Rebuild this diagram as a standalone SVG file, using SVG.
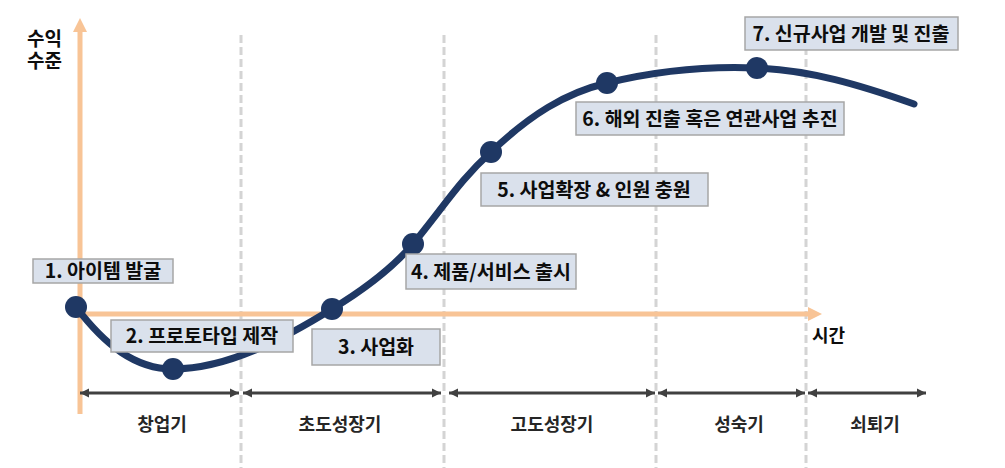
<svg xmlns="http://www.w3.org/2000/svg" width="1005" height="468" viewBox="0 0 1005 468">
<defs>
<style>
.bg{fill:#ffffff}
.axis{stroke:#f8c496;stroke-width:5;fill:none}
.axhead{fill:#f8c496}
.guide{stroke:#d4d4d4;stroke-width:3;stroke-dasharray:8 4;fill:none}
.span{stroke:#404040;stroke-width:3;fill:none;marker-start:url(#ah);marker-end:url(#ah)}
.curve{stroke:#1f3864;stroke-width:7;fill:none;stroke-linecap:round}
.dot{fill:#1f3864}
.box{fill:#dae1ec;stroke:#a6a6a6;stroke-width:1.5}
.lbl{font-family:"Noto Sans CJK KR","Noto Sans",sans-serif;font-weight:700;font-size:19.5px;fill:#0d0d0d;text-anchor:middle}
.phase{font-family:"Noto Sans CJK KR","Noto Sans",sans-serif;font-weight:700;font-size:18px;fill:#262626;text-anchor:middle}
.axlbl{font-family:"Noto Sans CJK KR","Noto Sans",sans-serif;font-weight:700;font-size:19px;fill:#0d0d0d}
</style>
<marker id="ah" viewBox="0 0 10 10" refX="10" refY="5" markerWidth="9" markerHeight="11" markerUnits="userSpaceOnUse" orient="auto-start-reverse">
<path d="M0,0 L10,5 L0,10 z" fill="#404040"/>
</marker>
</defs>
<rect class="bg" x="0" y="0" width="1005" height="468"/>

<g id="guides">
<line class="guide" x1="241" y1="35" x2="241" y2="468"/>
<line class="guide" x1="444" y1="35" x2="444" y2="468"/>
<line class="guide" x1="656" y1="35" x2="656" y2="468"/>
<line class="guide" x1="806" y1="35" x2="806" y2="468"/>
</g>

<g id="axes">
<line class="axis" x1="80" y1="414" x2="80" y2="30"/>
<polygon class="axhead" points="80,18 73,32 87,32"/>
<line class="axis" x1="78" y1="314" x2="810" y2="314"/>
<polygon class="axhead" points="822,314 808,307 808,321"/>
<text class="axlbl" x="27" y="46"><tspan x="27" y="46">수익</tspan><tspan x="27" y="68">수준</tspan></text>
<text class="axlbl" x="812" y="342" style="font-size:18px">시간</text>
</g>

<g id="connectors">
<path class="curve" d="M76,307 C105,345 135,369 173,369 C230,369 290,335 332,309 C365,289 395,265 413,244 C445,205 460,180 491,152 C530,115 565,93 607,83 C660,70 710,66 757,68 C810,70 860,85 914,104"/>
<line class="span" x1="80" y1="393" x2="239" y2="393"/>
<line class="span" x1="243" y1="393" x2="441" y2="393"/>
<line class="span" x1="449" y1="393" x2="655" y2="393"/>
<line class="span" x1="658" y1="393" x2="805" y2="393"/>
<line class="span" x1="808" y1="393" x2="926" y2="393"/>
</g>

<g id="phases">
<text class="phase" x="162" y="431">창업기</text>
<text class="phase" x="340" y="431">초도성장기</text>
<text class="phase" x="552" y="431">고도성장기</text>
<text class="phase" x="739" y="431">성숙기</text>
<text class="phase" x="875" y="431">쇠퇴기</text>
</g>

<g id="dots">
<circle class="dot" cx="76" cy="307" r="11"/>
<circle class="dot" cx="173" cy="369" r="11"/>
<circle class="dot" cx="332" cy="309" r="11"/>
<circle class="dot" cx="413" cy="244" r="11"/>
<circle class="dot" cx="491" cy="152" r="11"/>
<circle class="dot" cx="607" cy="83" r="11"/>
<circle class="dot" cx="757" cy="68" r="11"/>
</g>

<g id="node1">
<rect class="box" x="33" y="259" width="140" height="24"/>
<text class="lbl" x="103" y="278">1. 아이템 발굴</text>
</g>
<g id="node2">
<rect class="box" x="111" y="320" width="182" height="32"/>
<text class="lbl" x="202" y="343">2. 프로토타입 제작</text>
</g>
<g id="node3">
<rect class="box" x="312" y="329" width="128" height="36"/>
<text class="lbl" x="376" y="354">3. 사업화</text>
</g>
<g id="node4">
<rect class="box" x="406" y="254" width="170" height="35"/>
<text class="lbl" x="491" y="279">4. 제품/서비스 출시</text>
</g>
<g id="node5">
<rect class="box" x="481" y="173" width="227" height="33"/>
<text class="lbl" x="594" y="197">5. 사업확장 &amp; 인원 충원</text>
</g>
<g id="node6">
<rect class="box" x="576" y="102" width="268" height="33"/>
<text class="lbl" x="710" y="126">6. 해외 진출 혹은 연관사업 추진</text>
</g>
<g id="node7">
<rect class="box" x="745" y="17" width="213" height="33"/>
<text class="lbl" x="851" y="41">7. 신규사업 개발 및 진출</text>
</g>
</svg>
